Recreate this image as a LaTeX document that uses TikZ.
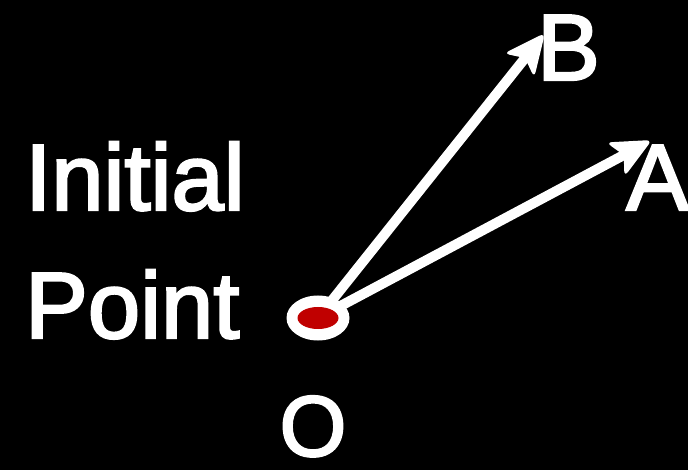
\documentclass[tikz,border=0pt]{standalone}
\usepackage{fontspec}
\setmainfont{Liberation Sans}[FakeBold=2.5]
\usetikzlibrary{calc,shapes.geometric}
\definecolor{dotred}{HTML}{C00000}
\begin{document}
\begin{tikzpicture}[x=1pt,y=-1pt,
  lbl/.style={text=white,inner sep=0pt,font=\fontsize{94}{94}\selectfont},
  shaft/.style={draw=white,line width=10pt,line cap=round},
  head/.style={fill=white}]
\useasboundingbox[fill=black] (0,0) rectangle (688,470);
\node[lbl,anchor=base west] (init) at (25,210) {Initial};
\node[lbl,anchor=base west] (pt) at (25,338) {Point};
\node[lbl,anchor=base,font=\fontsize{86}{86}\selectfont] (lo) at (313,456) {O};
\node[lbl,anchor=base west] (la) at (626,210) {A};
\node[lbl,anchor=base west] (lb) at (537,80) {B};
\coordinate (o) at (318,318);
\coordinate (ta) at (652,140);
\coordinate (tb) at (545,33);
\draw[shaft] (o) -- ($(ta)!24pt!(o)$);
\draw[shaft] (o) -- ($(tb)!24pt!(o)$);
\coordinate (a1) at ($(ta)!46pt!25:(o)$);
\coordinate (a2) at ($(ta)!32pt!(o)$);
\coordinate (a3) at ($(ta)!46pt!335:(o)$);
\coordinate (b1) at ($(tb)!46pt!25:(o)$);
\coordinate (b2) at ($(tb)!32pt!(o)$);
\coordinate (b3) at ($(tb)!46pt!335:(o)$);
\fill[head,rounded corners=6pt] (ta) -- (a1) -- (a2) -- (a3) -- cycle;
\fill[head,rounded corners=6pt] (tb) -- (b1) -- (b2) -- (b3) -- cycle;
\node[ellipse,fill=white,minimum width=63pt,minimum height=45pt,inner sep=0pt] (ring) at (o) {};
\node[ellipse,fill=dotred,minimum width=41pt,minimum height=22pt,inner sep=0pt] (dot) at (o) {};
\end{tikzpicture}
\end{document}
